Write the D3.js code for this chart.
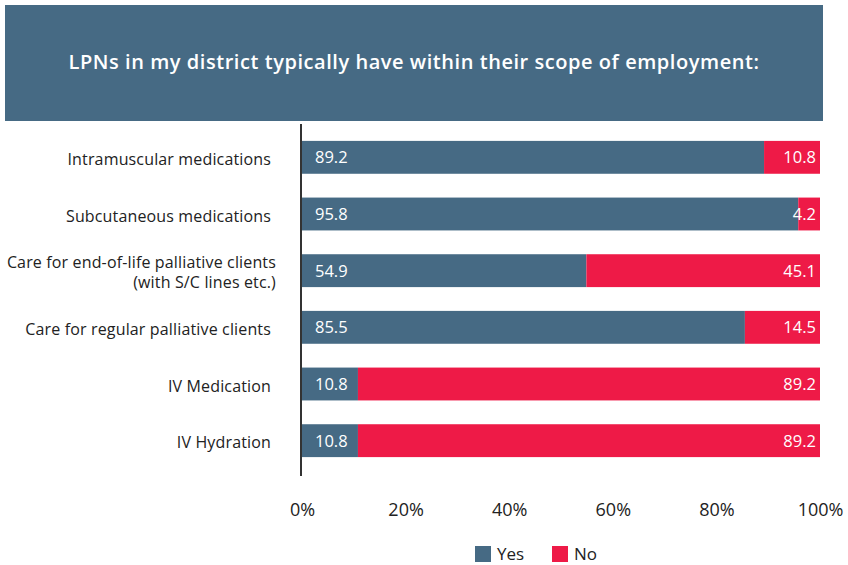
<!DOCTYPE html>
<html>
<head>
<meta charset="utf-8">
<script src="https://cdn.jsdelivr.net/npm/d3@7"></script>
<style>
  html, body { margin: 0; padding: 0; background: #fff; }
  svg { display: block; font-family: "Open Sans", sans-serif; }
</style>
</head>
<body>
<svg id="chart" width="848" height="565"></svg>
<script>
// Survey responses (% of respondents)
const categories = [
  ["Intramuscular medications"],
  ["Subcutaneous medications"],
  ["Care for end-of-life palliative clients", "(with S/C lines etc.)"],
  ["Care for regular palliative clients"],
  ["IV Medication"],
  ["IV Hydration"]
];
const yesValues = [89.2, 95.8, 54.9, 85.5, 10.8, 10.8];
const noValues  = [10.8, 4.2, 45.1, 14.5, 89.2, 89.2];
const tickValues = [0, 20, 40, 60, 80, 100];
const seriesNames = ["Yes", "No"];
const colors = { Yes: "#466a84", No: "#ee1a47" };

const svg = d3.select("#chart");

// Title banner
svg.append("rect")
  .attr("x", 5).attr("y", 5).attr("width", 818).attr("height", 116)
  .attr("fill", "#466a84");
svg.append("text")
  .attr("x", 414).attr("y", 69)
  .attr("text-anchor", "middle")
  .attr("fill", "#fff")
  .attr("font-size", 20)
  .attr("font-weight", 600)
  .attr("letter-spacing", 0.55)
  .text("LPNs in my district typically have within their scope of employment:");

const x = d3.scaleLinear().domain([0, 100]).range([302, 820]);
const y = d3.scaleBand()
  .domain(d3.range(categories.length))
  .range([129, 469])
  .paddingInner(0.42)
  .paddingOuter(0.21);

const rows = categories.map((c, i) => ({ i, label: c, yes: yesValues[i], no: noValues[i] }));

const g = svg.append("g");
const row = g.selectAll("g.row").data(rows).join("g").attr("class", "row");

row.append("rect")
  .attr("x", x(0))
  .attr("y", d => y(d.i))
  .attr("width", d => x(d.yes) - x(0))
  .attr("height", y.bandwidth())
  .attr("fill", colors.Yes);

row.append("rect")
  .attr("x", d => x(d.yes))
  .attr("y", d => y(d.i))
  .attr("width", d => x(d.yes + d.no) - x(d.yes))
  .attr("height", y.bandwidth())
  .attr("fill", colors.No);

row.append("text")
  .attr("x", x(0) + 13)
  .attr("y", d => y(d.i) + y.bandwidth() / 2)
  .attr("dy", "0.36em")
  .attr("fill", "#fff")
  .attr("font-size", 16.5)
  .text(d => d.yes.toFixed(1));

row.append("text")
  .attr("x", d => x(d.yes + d.no) - 4)
  .attr("y", d => y(d.i) + y.bandwidth() / 2)
  .attr("dy", "0.36em")
  .attr("text-anchor", "end")
  .attr("fill", "#fff")
  .attr("font-size", 16.5)
  .text(d => d.no.toFixed(1));

// Category labels, one text element per line
const lineGap = 20;
row.each(function(d) {
  const n = d.label.length;
  const xPos = n > 1 ? 276 : 271;
  const cy = y(d.i) + y.bandwidth() / 2 + 2;
  d.label.forEach((line, k) => {
    d3.select(this).append("text")
      .attr("x", xPos)
      .attr("y", cy + (k - (n - 1) / 2) * lineGap)
      .attr("dy", "0.36em")
      .attr("text-anchor", "end")
      .attr("fill", "#222")
      .attr("font-size", 16)
      .attr("letter-spacing", 0.15)
      .text(line);
  });
});

// Vertical baseline
svg.append("line")
  .attr("x1", 301).attr("x2", 301)
  .attr("y1", 124).attr("y2", 476)
  .attr("stroke", "#333").attr("stroke-width", 2);

// Percentage axis labels
const xAxis = d3.axisBottom(x)
  .tickValues(tickValues)
  .tickFormat(d => d + "%")
  .tickSize(0)
  .tickPadding(0);
const axisG = svg.append("g")
  .attr("transform", "translate(0,503)")
  .call(xAxis);
axisG.select(".domain").remove();
axisG.selectAll("text")
  .attr("font-family", "'Open Sans', sans-serif")
  .attr("font-size", 18)
  .attr("fill", "#222");

// Legend
const legend = svg.append("g").attr("transform", "translate(475,546)");
const legendX = [0, 77];
seriesNames.forEach((s, i) => {
  const lg = legend.append("g").attr("transform", `translate(${legendX[i]},0)`);
  lg.append("rect").attr("width", 16).attr("height", 16).attr("fill", colors[s]);
  lg.append("text")
    .attr("x", 22).attr("y", 8).attr("dy", "0.36em")
    .attr("font-size", 17).attr("fill", "#222")
    .text(s);
});
</script>
</body>
</html>
